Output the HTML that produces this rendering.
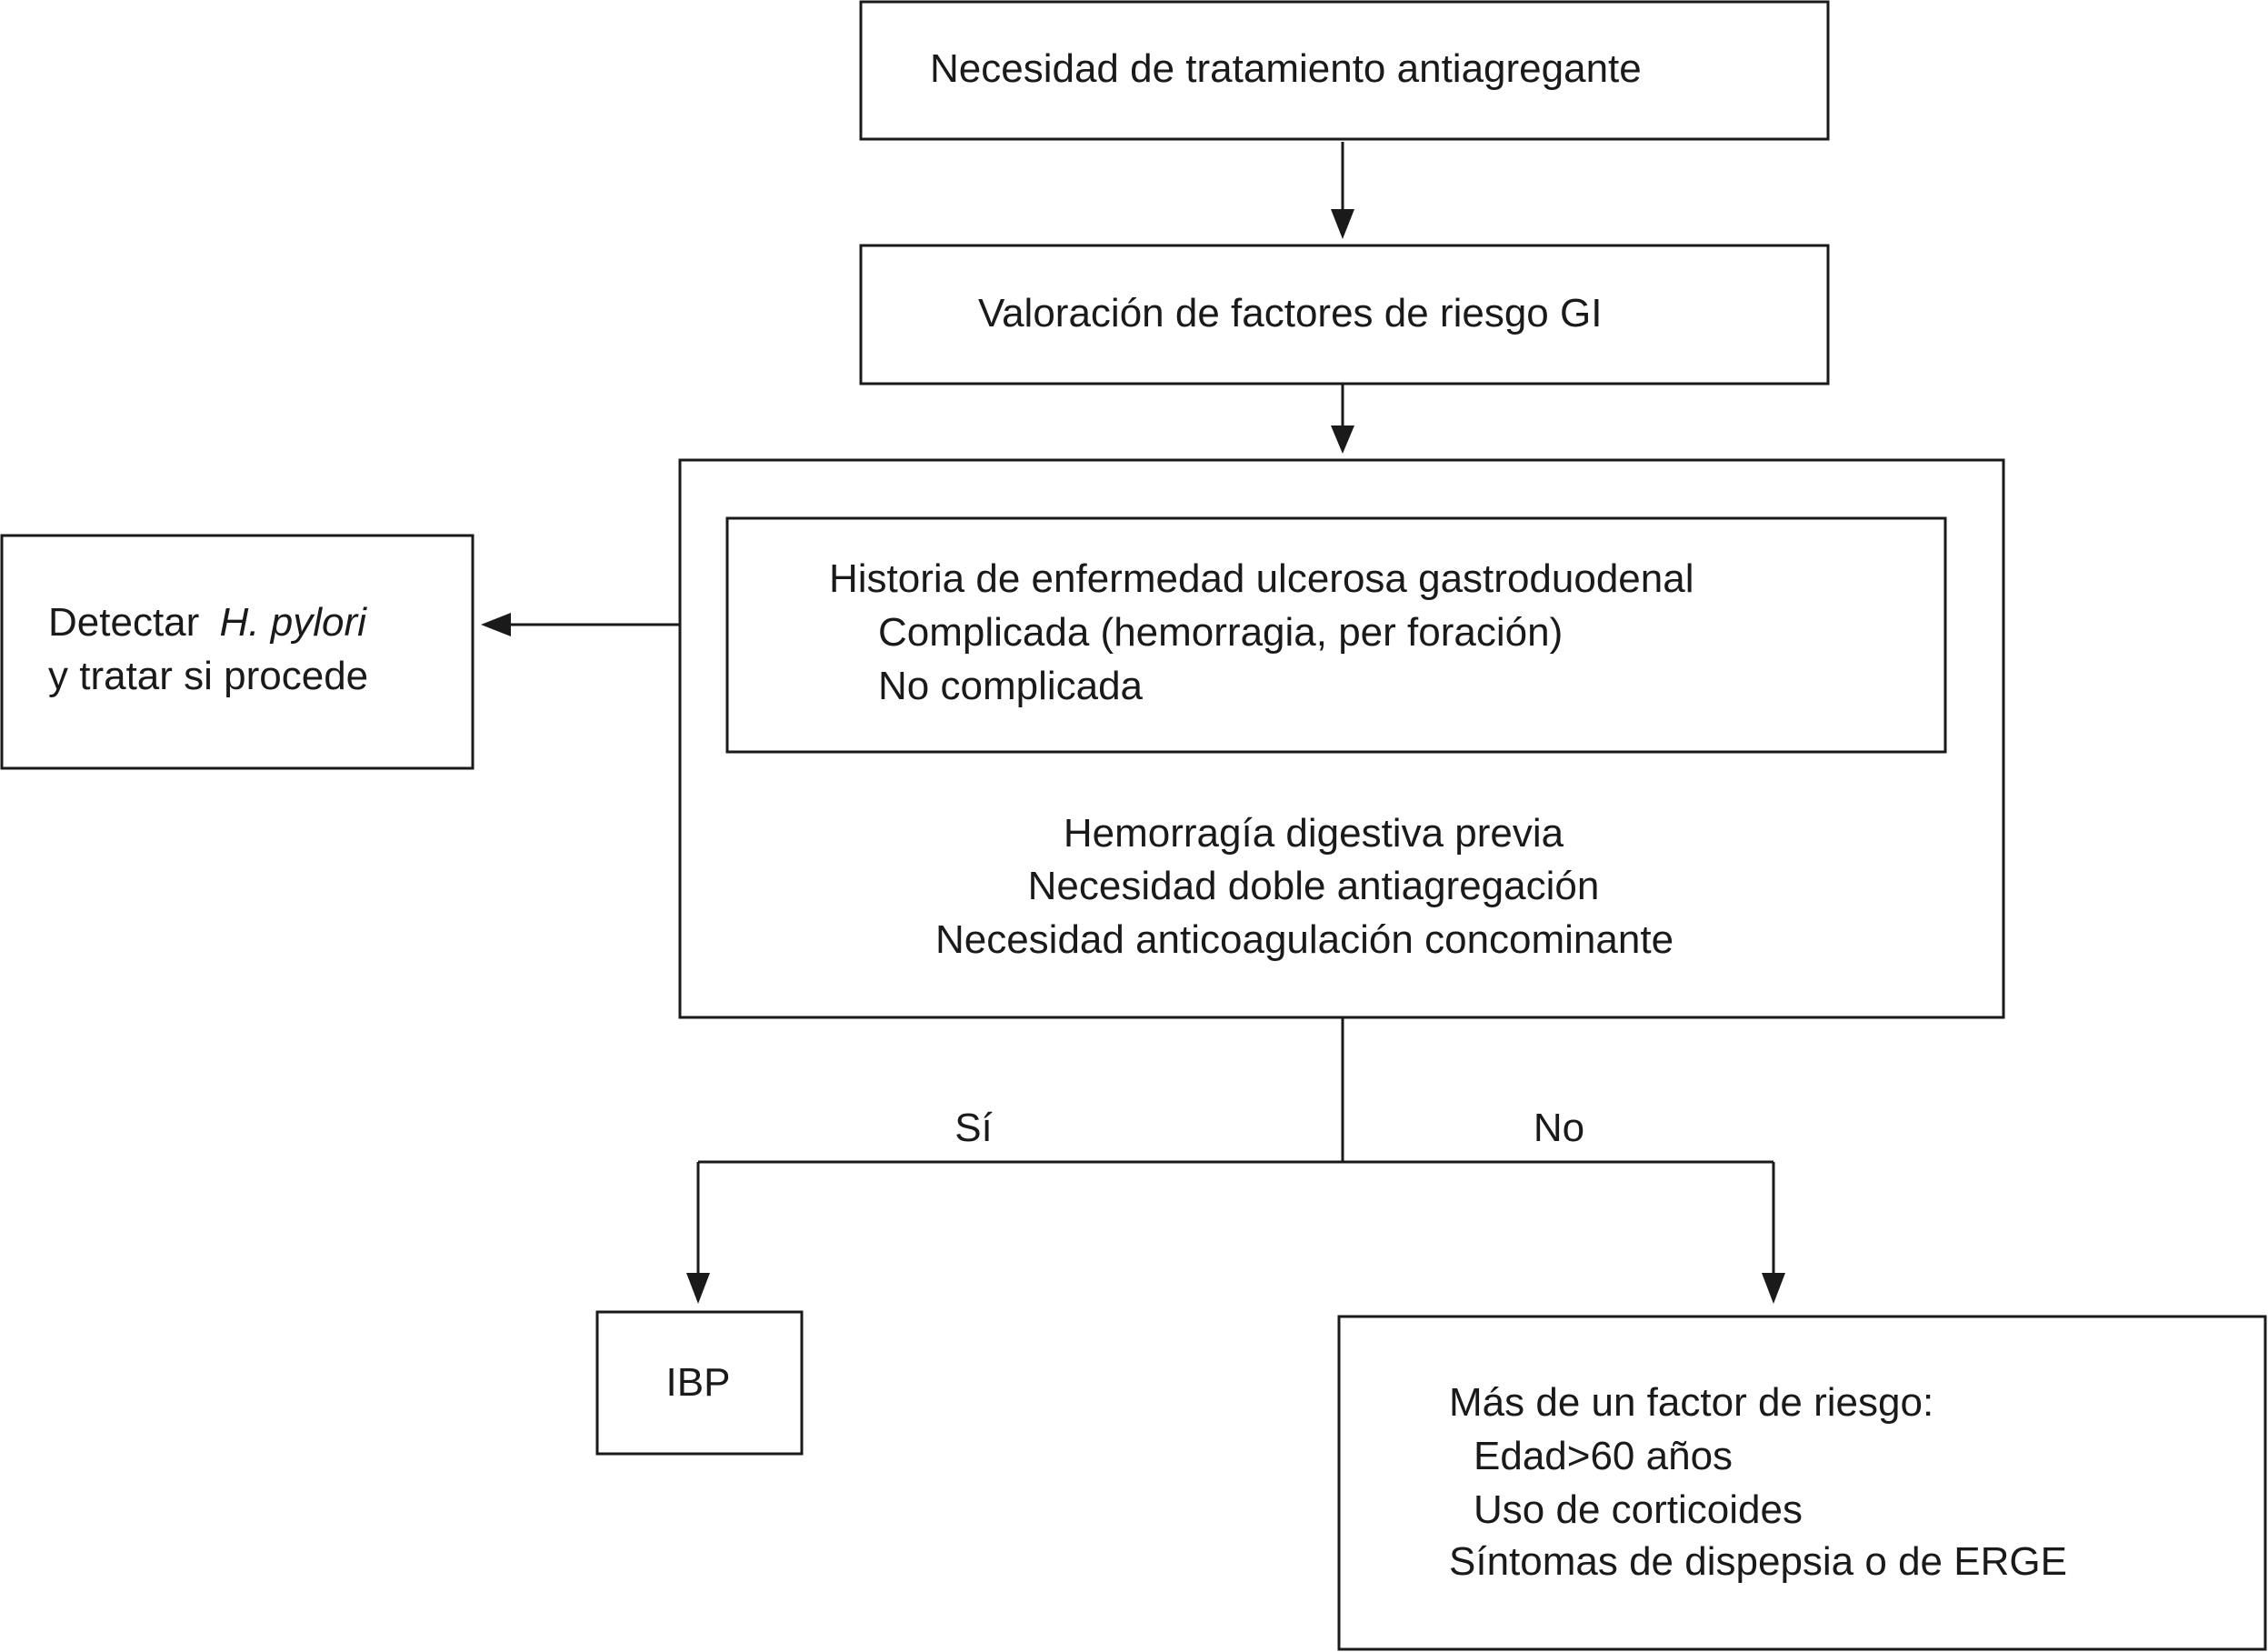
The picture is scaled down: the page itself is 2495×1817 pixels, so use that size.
<!DOCTYPE html>
<html><head><meta charset="utf-8"><style>
html,body{margin:0;padding:0;background:#fff;}
svg{display:block;}
text{font-family:"Liberation Sans",Arial,sans-serif;font-size:44px;fill:#1a1a1a;}
</style></head><body>
<svg width="2495" height="1817" viewBox="0 0 2495 1817" xmlns="http://www.w3.org/2000/svg">
<defs><marker id="a" markerWidth="10" markerHeight="10" refX="9" refY="5" orient="auto" markerUnits="userSpaceOnUse" viewBox="0 0 10 10"><path d="M0,0 L10,5 L0,10 z" fill="#1a1a1a"/></marker></defs>
<g fill="none" stroke="#1a1a1a" stroke-width="3">
<rect x="947" y="2" width="1064" height="151"/>
<rect x="947" y="270" width="1064" height="152"/>
<rect x="748" y="506" width="1456" height="613"/>
<rect x="800" y="570" width="1340" height="257"/>
<rect x="2" y="589" width="518" height="256"/>
<rect x="657" y="1443" width="225" height="156"/>
<rect x="1473" y="1448" width="1019" height="366"/>
<path d="M1477 1119 V1278 M768 1278 H1951 M768 1278 V1400 M1951 1278 V1400 M1477 156 V230 M1477 422 V470 M748 687 H560"/>
</g>
<g fill="#1a1a1a">
<path d="M1464 230 L1490 230 L1477 263 Z"/>
<path d="M1464 468 L1490 468 L1477 499 Z"/>
<path d="M755 1400 L781 1400 L768 1434 Z"/>
<path d="M1938 1400 L1964 1400 L1951 1434 Z"/>
<path d="M562 674 L562 700 L529 687 Z"/>
</g>
<text x="1023" y="90">Necesidad de tratamiento antiagregante</text>
<text x="1076" y="359">Valoración de factores de riesgo GI</text>
<text x="912" y="651">Historia de enfermedad ulcerosa gastroduodenal</text>
<text x="966" y="710">Complicada (hemorragia, per  foración)</text>
<text x="966" y="769">No complicada</text>
<text x="1445" y="931" text-anchor="middle">Hemorragía digestiva previa</text>
<text x="1445" y="989" text-anchor="middle">Necesidad doble antiagregación</text>
<text x="1435" y="1048" text-anchor="middle">Necesidad anticoagulación concominante</text>
<text x="53" y="699">Detectar <tspan font-style="italic" dx="10">H. pylori</tspan></text>
<text x="53" y="758">y tratar si procede</text>
<text x="1071" y="1255" text-anchor="middle">Sí</text>
<text x="1715" y="1255" text-anchor="middle">No</text>
<text x="768" y="1535" text-anchor="middle">IBP</text>
<text x="1594" y="1557">Más de un factor de riesgo:</text>
<text x="1621" y="1616">Edad&gt;60 años</text>
<text x="1621" y="1675">Uso de corticoides</text>
<text x="1594" y="1732">Síntomas de dispepsia o de ERGE</text>
</svg>
</body></html>
